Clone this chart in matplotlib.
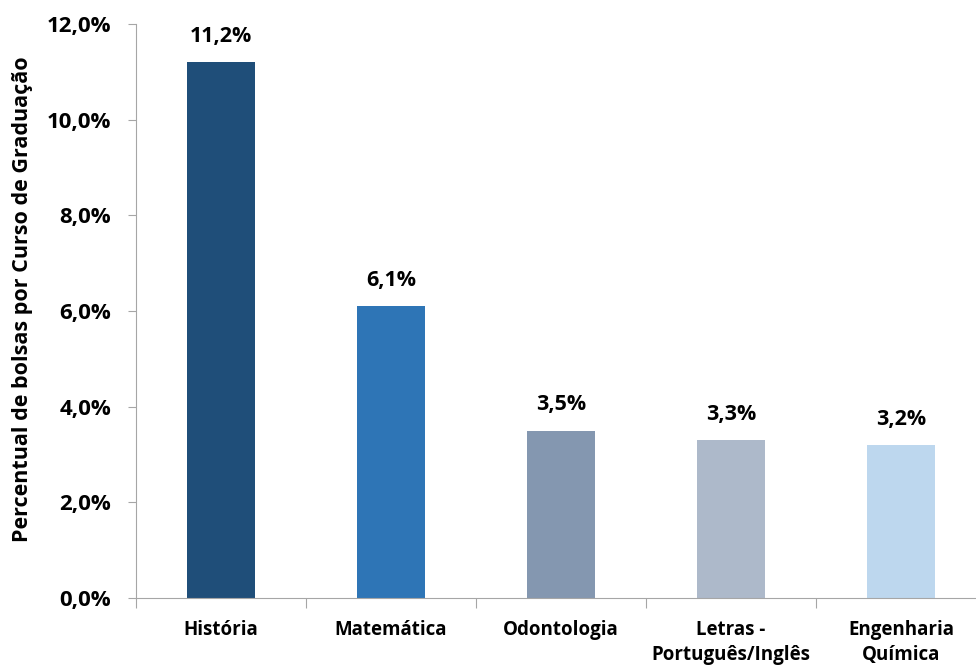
import matplotlib.pyplot as plt
import numpy as np
from matplotlib.ticker import FuncFormatter

cursos = ['História', 'Matemática', 'Odontologia', 'Letras -\nPortuguês/Inglês', 'Engenharia\nQuímica']
percentuais = [11.2, 6.1, 3.5, 3.3, 3.2]
cores = ['#1F4E79', '#2E75B6', '#8497B0', '#ADB9CA', '#BDD7EE']
yticks = [0, 2, 4, 6, 8, 10, 12]

plt.rcParams['font.family'] = ['Open Sans', 'DejaVu Sans']
plt.rcParams['font.weight'] = 'bold'

my_dpi = 100
fig = plt.figure(figsize=(976 / my_dpi, 668 / my_dpi), dpi=my_dpi)
# eixo vai um pouco além da borda direita, como no original
ax = fig.add_axes([136 / 976, 70 / 668, 850 / 976, 574 / 668])

x = np.arange(len(cursos))
ax.bar(x, percentuais, width=0.4, color=cores)

for xi, v in zip(x, percentuais):
    ax.annotate(f'{v:.1f}%'.replace('.', ','), (xi, v), xytext=(0, 18.5),
                textcoords='offset points', ha='center', va='center',
                fontsize=15.5, fontweight='bold')

ax.set_xlim(-0.5, len(cursos) - 0.5)
ax.set_ylim(0, 12)
ax.set_yticks(yticks)
ax.yaxis.set_major_formatter(FuncFormatter(lambda v, p: f'{v:.1f}%'.replace('.', ',')))

ax.set_xticks(np.arange(len(cursos) + 1) - 0.5)
ax.set_xticklabels([])
ax.set_xticks(x, minor=True)
ax.set_xticklabels(cursos, minor=True, fontsize=13.5, fontweight='bold', linespacing=1.35)
ax.tick_params(axis='x', which='minor', length=0, pad=16)
ax.tick_params(axis='x', which='major', length=7, color='#A6A6A6')
ax.tick_params(axis='y', length=6, color='#A6A6A6', labelsize=16, pad=12)

for lab in ax.get_yticklabels():
    lab.set_fontweight('bold')

for s in ['top', 'right']:
    ax.spines[s].set_visible(False)
for s in ['left', 'bottom']:
    ax.spines[s].set_color('#A6A6A6')

ax.set_ylabel('Percentual de bolsas por Curso de Graduação', fontsize=15.5,
              fontweight='bold', va='center')
ax.yaxis.set_label_coords(-113 / 850, 0.52)

plt.savefig('out.png', dpi=my_dpi)
